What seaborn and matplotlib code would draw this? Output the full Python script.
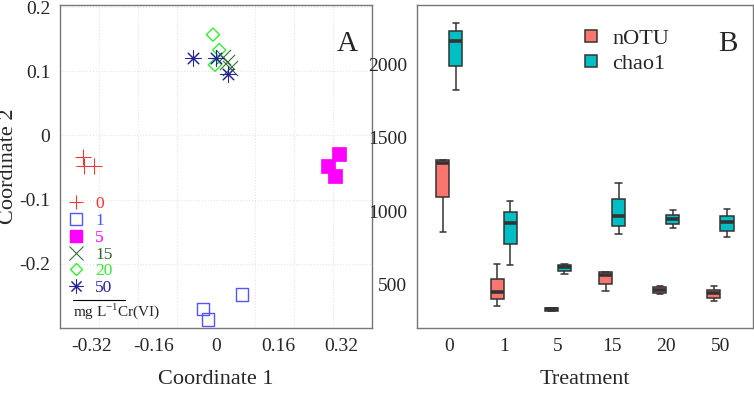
import matplotlib
matplotlib.use("Agg")
import matplotlib.pyplot as plt
from matplotlib.lines import Line2D
from matplotlib.ticker import MultipleLocator
import seaborn as sns
import pandas as pd

# PCoA coordinates per Cr(VI) level
groups = ["0", "1", "5", "15", "20", "50"]
coord1 = {
    "0": [-0.341, -0.338, -0.312],
    "1": [0.067, -0.034, -0.021],
    "5": [0.315, 0.286, 0.305],
    "15": [0.018, 0.028, 0.036],
    "20": [-0.008, 0.008, -0.003],
    "50": [-0.059, 0.0, 0.031],
}
coord2 = {
    "0": [-0.034, -0.047, -0.047],
    "1": [-0.248, -0.271, -0.287],
    "5": [-0.029, -0.047, -0.064],
    "15": [0.122, 0.115, 0.105],
    "20": [0.157, 0.133, 0.110],
    "50": [0.121, 0.121, 0.095],
}

# richness: min, q1, median, q3, max per treatment
treatments = ["0", "1", "5", "15", "20", "50"]
notu = [
    [860, 1097, 1330, 1345, 1348],
    [357, 405, 452, 541, 643],
    [320, 325, 335, 342, 346],
    [459, 507, 568, 585, 588],
    [440, 446, 466, 484, 493],
    [391, 412, 446, 466, 493],
]
chao1 = [
    [1824, 1987, 2157, 2224, 2279],
    [636, 778, 921, 996, 1070],
    [575, 595, 622, 636, 643],
    [846, 900, 968, 1085, 1194],
    [885, 915, 950, 977, 1010],
    [826, 868, 928, 968, 1016],
]

colors = {"0": "#FF3030", "1": "#5555FF", "5": "#FF00FF",
          "15": "#2E6B2E", "20": "#33EE33", "50": "#22229A"}
markers = {"0": "+", "1": "s", "5": "s", "15": "x", "20": "D", "50": (8, 2, 0)}

sns.set_style("white")
plt.rcParams["font.family"] = ["Liberation Serif", "DejaVu Serif"]
plt.rcParams["mathtext.fontset"] = "custom"
plt.rcParams["mathtext.rm"] = "Liberation Serif"

fig = plt.figure(figsize=(7.54, 3.95), dpi=100)
ax1 = fig.add_axes([0.0796, 0.170, 0.414, 0.817])
ax2 = fig.add_axes([0.553, 0.170, 0.4457, 0.817])

# panel A
for g in groups:
    c = colors[g]
    if g == "1":
        sns.scatterplot(x=coord1[g], y=coord2[g], marker="s", s=80, color=c,
                        facecolor="none", edgecolor=c, linewidth=1.0, ax=ax1)
    elif g == "5":
        sns.scatterplot(x=coord1[g], y=coord2[g], marker="s", s=90, color=c,
                        edgecolor=c, linewidth=0.5, ax=ax1)
    elif g == "20":
        sns.scatterplot(x=coord1[g], y=coord2[g], marker="D", s=45, color=c,
                        facecolor="none", edgecolor=c, linewidth=1.0, ax=ax1)
    else:
        sns.scatterplot(x=coord1[g], y=coord2[g], marker=markers[g], s=120,
                        color=c, linewidth=0.75, ax=ax1)

ax1.set_xlim(-0.40, 0.40)
ax1.set_ylim(-0.30, 0.203)
ax1.set_xticks([-0.32, -0.16, 0, 0.16, 0.32])
ax1.set_xticklabels(["-0.32", "-0.16", "0", "0.16", "0.32"])
ax1.set_yticks([-0.2, -0.1, 0, 0.1, 0.2])
ax1.set_yticklabels(["-0.2", "-0.1", "0", "0.1", "0.2"])
ax1.xaxis.set_minor_locator(MultipleLocator(0.1))
ax1.grid(False)
ax1.grid(True, axis="x", which="minor", color="#E4E4E4", linestyle=":", linewidth=0.8)
ax1.grid(True, axis="y", which="major", color="#E4E4E4", linestyle=":", linewidth=0.8)
ax1.tick_params(axis="x", which="minor", length=0)
ax1.set_xlabel("Coordinate 1", fontsize=16, labelpad=11)
ax1.set_ylabel("Coordinate 2", fontsize=16, labelpad=1)
ax1.text(0.955, 0.88, "A", transform=ax1.transAxes, fontsize=21, ha="right", va="center")

handles = []
for g in groups:
    c = colors[g]
    if g in ("1", "20"):
        h = Line2D([], [], linestyle="none", marker=markers[g], markersize=8 if g == "1" else 6.5,
                   markerfacecolor="none", markeredgecolor=c, markeredgewidth=1.0)
    elif g == "5":
        h = Line2D([], [], linestyle="none", marker="s", markersize=8.5, color=c)
    else:
        h = Line2D([], [], linestyle="none", marker=markers[g], markersize=10,
                   color=c, markeredgewidth=0.75)
    handles.append(h)
leg = ax1.legend(handles, groups, loc="lower left", bbox_to_anchor=(-0.015, 0.06),
                 frameon=False, fontsize=12.5, labelcolor=[colors[g] for g in groups],
                 handlelength=1.0, handletextpad=0.6, labelspacing=0.04, borderpad=0.2)
ax1.plot([0.042, 0.208], [0.085, 0.085], transform=ax1.transAxes, color="black",
         linewidth=0.8)
ax1.text(0.042, 0.052, r"mg L$^{\mathrm{-1}}$Cr(VI)", transform=ax1.transAxes,
         fontsize=11, va="center", ha="left")

# panel B
rows = []
for t, a, b in zip(treatments, notu, chao1):
    for v in a:
        rows.append({"Treatment": t, "index": "nOTU", "value": v})
    for v in b:
        rows.append({"Treatment": t, "index": "chao1", "value": v})
df = pd.DataFrame(rows)

sns.boxplot(data=df, x="Treatment", y="value", hue="index", order=treatments,
            hue_order=["nOTU", "chao1"],
            palette={"nOTU": "#F8766D", "chao1": "#00BFC4"},
            width=0.48, gap=0, whis=100, fliersize=0, linecolor="#333333",
            linewidth=1.1, medianprops={"linewidth": 2.6, "color": "#333333"},
            saturation=1, ax=ax2)
ax2.set_xlim(-0.6, 5.6)
ax2.set_ylim(208, 2400)
ax2.set_yticks([500, 1000, 1500, 2000])
ax2.set_xlabel("Treatment", fontsize=16, labelpad=11)
ax2.set_ylabel("")
ax2.text(0.955, 0.88, "B", transform=ax2.transAxes, fontsize=21, ha="right", va="center")
leg2 = ax2.legend(loc="upper left", bbox_to_anchor=(0.44, 0.985), frameon=False,
                  fontsize=16, handlelength=0.55, handleheight=0.45, handletextpad=0.7,
                  labelspacing=0.28)

for ax in (ax1, ax2):
    for s in ax.spines.values():
        s.set_color("#777777")
        s.set_linewidth(1.0)
    ax.tick_params(axis="both", which="major", labelsize=14, length=3, width=0.8,
                   color="#777777", pad=4)

fig.savefig("out.png", dpi=100)
